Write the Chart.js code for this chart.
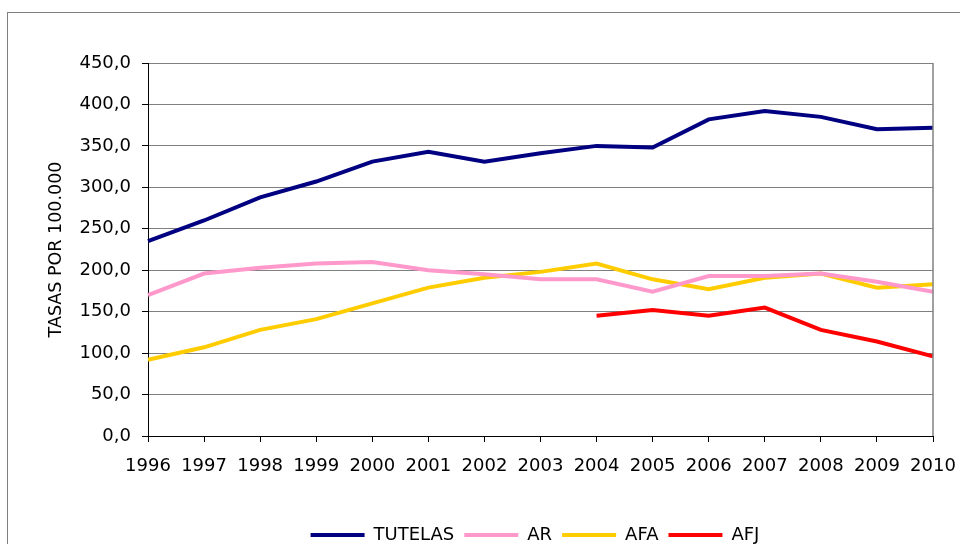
<!DOCTYPE html>
<html>
<head>
<meta charset="utf-8">
<script src="https://cdn.jsdelivr.net/npm/chart.js@4"></script>
<style>
    html, body { margin: 0; padding: 0; background: #fff; overflow: hidden; }
    #frame {
        position: absolute;
        left: 7px;
        top: 12px;
        width: 1056px;
        height: 600px;
        border: 1px solid #808080;
    }
    #wrap { position: absolute; left: 0; top: 0; width: 1056px; height: 541px; }
</style>
</head>
<body>
<div id="frame">
    <div id="wrap"><canvas id="tasasChart"></canvas></div>
</div>
<script>
// Years on the x axis
const years = ['1996', '1997', '1998', '1999', '2000', '2001', '2002', '2003',
               '2004', '2005', '2006', '2007', '2008', '2009', '2010'];

// Rates per 100.000
const tutelas = [235, 260, 288, 307, 331, 343, 331, 341, 350, 348, 382, 392, 385, 370, 372];
const ar      = [170, 196, 203, 208, 210, 200, 195, 189, 189, 174, 193, 193, 196, 186, 174];
const afa     = [ 92, 107, 128, 141, 160, 179, 191, 198, 208, 189, 177, 191, 196, 179, 183];
const afj     = [null, null, null, null, null, null, null, null, 145, 152, 145, 155, 128, 114, 96];

const yTicks = { min: 0, max: 450, step: 50 };

const FONT = 'DejaVu Sans';

// gray border on the right edge of the plot area
const plotBorder = {
    id: 'plotBorder',
    afterDraw(chart) {
        const { ctx, chartArea } = chart;
        ctx.save();
        ctx.strokeStyle = '#808080';
        ctx.lineWidth = 1.5;
        ctx.beginPath();
        ctx.moveTo(chartArea.right, chartArea.top);
        ctx.lineTo(chartArea.right, chartArea.bottom);
        ctx.stroke();
        ctx.restore();
    }
};

function makeSet(label, data, color) {
    return {
        label: label,
        data: data,
        borderColor: color,
        backgroundColor: color,
        borderWidth: 4,
        pointRadius: 0,
        pointHoverRadius: 0,
        tension: 0,
        spanGaps: false,
        fill: false
    };
}

const ctx = document.getElementById('tasasChart').getContext('2d');
new Chart(ctx, {
    type: 'line',
    data: {
        labels: years,
        datasets: [
            makeSet('TUTELAS', tutelas, '#000080'),
            makeSet('AR', ar, '#FF99CC'),
            makeSet('AFA', afa, '#FFCC00'),
            makeSet('AFJ', afj, '#FF0000')
        ]
    },
    options: {
        responsive: true,
        maintainAspectRatio: false,
        animation: false,
        layout: {
            padding: { left: 38, right: 40, top: 50, bottom: 0 }
        },
        plugins: {
            legend: {
                position: 'bottom',
                labels: {
                    color: '#000',
                    font: { family: FONT, size: 18 },
                    boxWidth: 54,
                    boxHeight: 4,
                    padding: 10,
                    generateLabels(chart) {
                        return Chart.defaults.plugins.legend.labels.generateLabels(chart)
                            .map(l => ({ ...l, lineWidth: 0, fillStyle: l.strokeStyle }));
                    }
                }
            },
            tooltip: { enabled: false }
        },
        scales: {
            x: {
                offset: false,
                grid: {
                    drawOnChartArea: false,
                    color: '#000',
                    tickLength: 6
                },
                border: { color: '#000', width: 1 },
                ticks: {
                    color: '#000',
                    font: { family: FONT, size: 18 },
                    maxRotation: 0,
                    autoSkip: false,
                    padding: 14
                },
                afterFit(scale) { scale.height = 80; }
            },
            y: {
                min: yTicks.min,
                max: yTicks.max,
                grid: {
                    color: c => c.tick && c.tick.value === 0 ? '#000' : '#808080',
                    tickColor: '#000',
                    tickLength: 6,
                    lineWidth: 1
                },
                border: { color: '#000', width: 1 },
                ticks: {
                    stepSize: yTicks.step,
                    color: '#000',
                    font: { family: FONT, size: 18 },
                    padding: 11,
                    callback: v => v.toFixed(1).replace('.', ',')
                },
                title: {
                    display: true,
                    text: 'TASAS POR 100.000',
                    color: '#000',
                    font: { family: FONT, size: 17.5 },
                    padding: { top: 0, bottom: 14 }
                },
                afterFit(scale) { scale.width = 102; }
            },
            // empty box on the right so the legend sits where it does in the original
            spacer: {
                type: 'linear',
                position: 'right',
                grid: { display: false },
                border: { display: false },
                ticks: { display: false },
                afterFit(scale) { scale.width = 91; }
            }
        }
    },
    plugins: [plotBorder]
});
</script>
</body>
</html>
